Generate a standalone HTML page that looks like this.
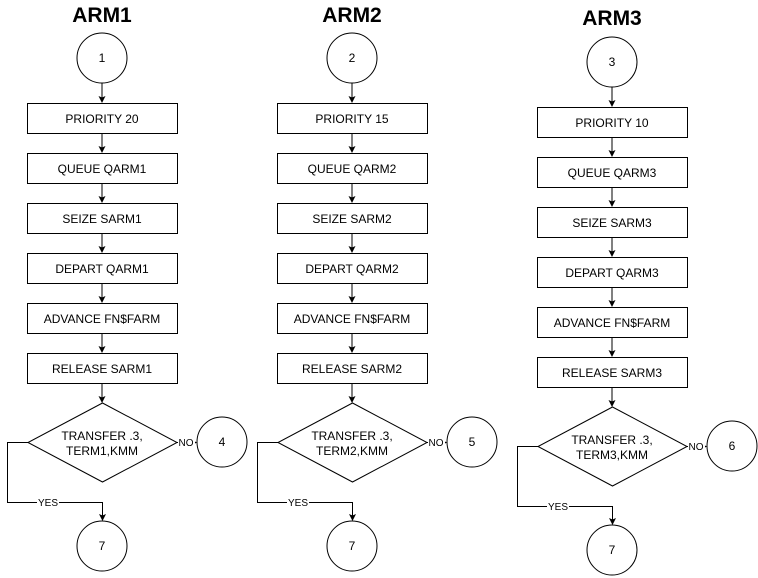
<!DOCTYPE html>
<html><head><meta charset="utf-8"><style>
html,body{margin:0;padding:0;background:#fff;width:758px;height:578px;overflow:hidden}
svg text{font-family:"Liberation Sans",Arial,sans-serif;fill:#000}
</style></head><body>
<svg width="758" height="578" viewBox="0 0 758 578" xmlns="http://www.w3.org/2000/svg">
<defs>
<g id="ah"><path d="M-3.5,-7 L0,0 L3.5,-7 L0,-5.5 Z" fill="#000"/></g>
</defs>
<g id="col1" stroke="#000" fill="none" stroke-width="1">
</g>
<!-- Column generator as static groups -->
<g font-size="12" text-anchor="middle">
<!-- ARM1 -->
<g transform="translate(0,0)">
<text x="102" y="22" font-size="21" font-weight="bold">ARM1</text>
<circle cx="102" cy="58" r="25" fill="none" stroke="#000"/>
<text x="102" y="62">1</text>
<line x1="102" y1="83" x2="102" y2="102" stroke="#000"/><use href="#ah" x="102" y="103"/>
<rect x="27.5" y="103.5" width="150" height="30" fill="none" stroke="#000"/><text x="102" y="123">PRIORITY 20</text>
<line x1="102" y1="133" x2="102" y2="152" stroke="#000"/><use href="#ah" x="102" y="153"/>
<rect x="27.5" y="153.5" width="150" height="30" fill="none" stroke="#000"/><text x="102" y="173">QUEUE QARM1</text>
<line x1="102" y1="183" x2="102" y2="202" stroke="#000"/><use href="#ah" x="102" y="203"/>
<rect x="27.5" y="203.5" width="150" height="30" fill="none" stroke="#000"/><text x="102" y="223">SEIZE SARM1</text>
<line x1="102" y1="233" x2="102" y2="252" stroke="#000"/><use href="#ah" x="102" y="253"/>
<rect x="27.5" y="253.5" width="150" height="30" fill="none" stroke="#000"/><text x="102" y="273">DEPART QARM1</text>
<line x1="102" y1="283" x2="102" y2="302" stroke="#000"/><use href="#ah" x="102" y="303"/>
<rect x="27.5" y="303.5" width="150" height="30" fill="none" stroke="#000"/><text x="102" y="323">ADVANCE FN$FARM</text>
<line x1="102" y1="333" x2="102" y2="352" stroke="#000"/><use href="#ah" x="102" y="353"/>
<rect x="27.5" y="353.5" width="150" height="30" fill="none" stroke="#000"/><text x="102" y="373">RELEASE SARM1</text>
<line x1="102" y1="383" x2="102" y2="402" stroke="#000"/><use href="#ah" x="102" y="403"/>
<path d="M102.5,403 L177,442.5 L102.5,482 L28,442.5 Z" fill="none" stroke="#000"/>
<text x="102" y="440">TRANSFER .3,</text><text x="102" y="455">TERM1,KMM</text>
<line x1="177" y1="442.5" x2="196" y2="442.5" stroke="#000"/><use href="#ah" transform="translate(197,442.5) rotate(-90)"/>
<rect x="178" y="436" width="17" height="12" fill="#fff"/><text x="186" y="446" font-size="10">NO</text>
<circle cx="222" cy="442" r="25" fill="none" stroke="#000"/><text x="222" y="446">4</text>
<path d="M28,442.5 H7.5 V502.5 H102.5 V520" fill="none" stroke="#000"/><use href="#ah" x="102.5" y="521"/>
<rect x="37" y="497" width="22" height="11" fill="#fff"/><text x="48" y="506" font-size="10">YES</text>
<circle cx="102" cy="546" r="25" fill="none" stroke="#000"/><text x="102" y="550">7</text>
</g>
<!-- ARM2 -->
<g transform="translate(250,0)">
<text x="102" y="22" font-size="21" font-weight="bold">ARM2</text>
<circle cx="102" cy="58" r="25" fill="none" stroke="#000"/>
<text x="102" y="62">2</text>
<line x1="102" y1="83" x2="102" y2="102" stroke="#000"/><use href="#ah" x="102" y="103"/>
<rect x="27.5" y="103.5" width="150" height="30" fill="none" stroke="#000"/><text x="102" y="123">PRIORITY 15</text>
<line x1="102" y1="133" x2="102" y2="152" stroke="#000"/><use href="#ah" x="102" y="153"/>
<rect x="27.5" y="153.5" width="150" height="30" fill="none" stroke="#000"/><text x="102" y="173">QUEUE QARM2</text>
<line x1="102" y1="183" x2="102" y2="202" stroke="#000"/><use href="#ah" x="102" y="203"/>
<rect x="27.5" y="203.5" width="150" height="30" fill="none" stroke="#000"/><text x="102" y="223">SEIZE SARM2</text>
<line x1="102" y1="233" x2="102" y2="252" stroke="#000"/><use href="#ah" x="102" y="253"/>
<rect x="27.5" y="253.5" width="150" height="30" fill="none" stroke="#000"/><text x="102" y="273">DEPART QARM2</text>
<line x1="102" y1="283" x2="102" y2="302" stroke="#000"/><use href="#ah" x="102" y="303"/>
<rect x="27.5" y="303.5" width="150" height="30" fill="none" stroke="#000"/><text x="102" y="323">ADVANCE FN$FARM</text>
<line x1="102" y1="333" x2="102" y2="352" stroke="#000"/><use href="#ah" x="102" y="353"/>
<rect x="27.5" y="353.5" width="150" height="30" fill="none" stroke="#000"/><text x="102" y="373">RELEASE SARM2</text>
<line x1="102" y1="383" x2="102" y2="402" stroke="#000"/><use href="#ah" x="102" y="403"/>
<path d="M102.5,403 L177,442.5 L102.5,482 L28,442.5 Z" fill="none" stroke="#000"/>
<text x="102" y="440">TRANSFER .3,</text><text x="102" y="455">TERM2,KMM</text>
<line x1="177" y1="442.5" x2="196" y2="442.5" stroke="#000"/><use href="#ah" transform="translate(197,442.5) rotate(-90)"/>
<rect x="178" y="436" width="17" height="12" fill="#fff"/><text x="186" y="446" font-size="10">NO</text>
<circle cx="222" cy="442" r="25" fill="none" stroke="#000"/><text x="222" y="446">5</text>
<path d="M28,442.5 H7.5 V502.5 H102.5 V520" fill="none" stroke="#000"/><use href="#ah" x="102.5" y="521"/>
<rect x="37" y="497" width="22" height="11" fill="#fff"/><text x="48" y="506" font-size="10">YES</text>
<circle cx="102" cy="546" r="25" fill="none" stroke="#000"/><text x="102" y="550">7</text>
</g>
<!-- ARM3 -->
<g transform="translate(510,4)">
<text x="102" y="21" font-size="21" font-weight="bold">ARM3</text>
<circle cx="102" cy="58" r="25" fill="none" stroke="#000"/>
<text x="102" y="62">3</text>
<line x1="102" y1="83" x2="102" y2="102" stroke="#000"/><use href="#ah" x="102" y="103"/>
<rect x="27.5" y="103.5" width="150" height="30" fill="none" stroke="#000"/><text x="102" y="123">PRIORITY 10</text>
<line x1="102" y1="133" x2="102" y2="152" stroke="#000"/><use href="#ah" x="102" y="153"/>
<rect x="27.5" y="153.5" width="150" height="30" fill="none" stroke="#000"/><text x="102" y="173">QUEUE QARM3</text>
<line x1="102" y1="183" x2="102" y2="202" stroke="#000"/><use href="#ah" x="102" y="203"/>
<rect x="27.5" y="203.5" width="150" height="30" fill="none" stroke="#000"/><text x="102" y="223">SEIZE SARM3</text>
<line x1="102" y1="233" x2="102" y2="252" stroke="#000"/><use href="#ah" x="102" y="253"/>
<rect x="27.5" y="253.5" width="150" height="30" fill="none" stroke="#000"/><text x="102" y="273">DEPART QARM3</text>
<line x1="102" y1="283" x2="102" y2="302" stroke="#000"/><use href="#ah" x="102" y="303"/>
<rect x="27.5" y="303.5" width="150" height="30" fill="none" stroke="#000"/><text x="102" y="323">ADVANCE FN$FARM</text>
<line x1="102" y1="333" x2="102" y2="352" stroke="#000"/><use href="#ah" x="102" y="353"/>
<rect x="27.5" y="353.5" width="150" height="30" fill="none" stroke="#000"/><text x="102" y="373">RELEASE SARM3</text>
<line x1="102" y1="383" x2="102" y2="402" stroke="#000"/><use href="#ah" x="102" y="403"/>
<path d="M102.5,403 L177,442.5 L102.5,482 L28,442.5 Z" fill="none" stroke="#000"/>
<text x="102" y="440">TRANSFER .3,</text><text x="102" y="455">TERM3,KMM</text>
<line x1="177" y1="442.5" x2="196" y2="442.5" stroke="#000"/><use href="#ah" transform="translate(197,442.5) rotate(-90)"/>
<rect x="178" y="436" width="17" height="12" fill="#fff"/><text x="186" y="446" font-size="10">NO</text>
<circle cx="222" cy="442" r="25" fill="none" stroke="#000"/><text x="222" y="446">6</text>
<path d="M28,442.5 H7.5 V502.5 H102.5 V520" fill="none" stroke="#000"/><use href="#ah" x="102.5" y="521"/>
<rect x="37" y="497" width="22" height="11" fill="#fff"/><text x="48" y="506" font-size="10">YES</text>
<circle cx="102" cy="546" r="25" fill="none" stroke="#000"/><text x="102" y="550">7</text>
</g>
</g>
</svg>
</body></html>
